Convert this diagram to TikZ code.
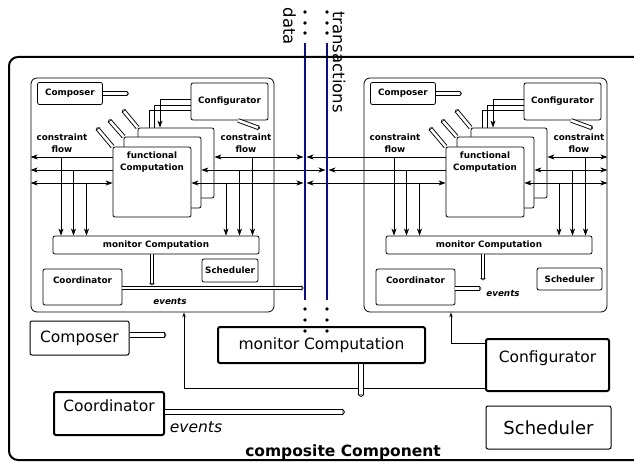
\documentclass[tikz,border=0pt]{standalone}
\usepackage{fontspec}
\setmainfont{DejaVu Sans}
\usetikzlibrary{arrows.meta}
\definecolor{dblue}{RGB}{10,10,160}
\tikzset{
  ibox/.style={draw, line width=0.8pt, fill=white, rounded corners=2pt, inner sep=0pt,
    font=\fontsize{8.8}{10.5}\selectfont\bfseries},
  obox/.style={draw, line width=2pt, fill=white, rounded corners=2pt, inner sep=0pt,
    font=\fontsize{15.5}{18}\selectfont},
  lbl/.style={align=center, inner sep=0pt, font=\fontsize{8.8}{12}\selectfont\bfseries},
  hol/.style={draw, line width=0.9pt, double=white, double distance=2.6pt,
    -{Triangle[open, length=2pt, width=5.5pt]}},
  ohol/.style={draw, line width=1pt, double=white, double distance=4pt,
    -{Triangle[open, length=2.5pt, width=7pt]}},
  sarr/.style={line width=0.8pt, -{Stealth[length=5pt, width=3.5pt]}},
  dline/.style={draw=dblue, line width=2.8pt},
}
\newcommand\innercomp{%
  \node[ibox, rounded corners=6pt, fill=none, minimum width=243pt, minimum height=234pt] (box) at (152.5,195) {};
  \node[ibox, minimum width=65pt, minimum height=22pt] (composer) at (70,93.5) {Composer};
  \draw[hol] (composer.east) -- ++(26,0);
  \node[ibox, minimum width=77pt, minimum height=37pt] (cfg) at (229.5,101.5) {Configurator};
  \draw[hol] ([xshift=8.5pt]cfg.south) -- ++(22,8);
  \node[ibox, minimum width=76pt, minimum height=70pt] (back) at (176,163) {};
  \node[ibox, minimum width=77pt, minimum height=71pt] (mid) at (162.5,172.5) {};
  \node[ibox, minimum width=78pt, minimum height=70pt,
    label={[lbl, anchor=north, yshift=-5pt]north:{functional\\Computation}}] (front) at (152,182) {};
  \draw[hol] (back.north west) -- ++(-15,-18);
  \draw[hol] (mid.north west) -- ++(-15,-17);
  \draw[hol] (front.north west) -- ++(-16,-19);
  \draw[line width=0.8pt, ->] ([yshift=2.5pt]cfg.west) -| ([xshift=-16pt]back.north);
  \draw[line width=0.8pt] ([yshift=-3.5pt]cfg.west) -| ([xshift=-22pt]back.north);
  \draw[line width=0.8pt] ([yshift=-8.5pt]cfg.west) -| ([xshift=-27pt]back.north);
  \node[lbl] (cfl) at (62,143) {constraint\\flow};
  \node[lbl] (cfr) at (246,143.5) {constraint\\flow};
  \node[ibox, minimum width=206pt, minimum height=18pt] (mon) at (156,245) {monitor Computation};
  \node[ibox, minimum width=79pt, minimum height=36pt, text depth=14.6pt] (coord) at (82.5,287) {Coordinator};
  \coordinate (r1) at (0,157); \coordinate (r2) at (0,170); \coordinate (r3) at (0,183);
  \coordinate (a1) at (61,0); \coordinate (a2) at (73.5,0); \coordinate (a3) at (86.5,0);
  \coordinate (b1) at (226,0); \coordinate (b2) at (239.5,0); \coordinate (b3) at (252.5,0);
  \draw[line width=0.8pt, ->] (a1 |- r1) -- (a1 |- mon.north);
  \draw[line width=0.8pt, ->] (a2 |- r2) -- (a2 |- mon.north);
  \draw[line width=0.8pt, ->] (a3 |- r3) -- (a3 |- mon.north);
  \draw[line width=0.8pt, ->] (b1 |- r3) -- (b1 |- mon.north);
  \draw[line width=0.8pt, ->] (b2 |- r2) -- (b2 |- mon.north);
  \draw[line width=0.8pt, ->] (b3 |- r1) -- (b3 |- mon.north);
}
\begin{document}
\begin{tikzpicture}[x=1pt, y=-1pt, >={Stealth[length=7pt, width=5pt, inset=2pt]}]
\useasboundingbox (0,0) rectangle (634,462);
\fill[white] (0,0) rectangle (634,462);

% left inner component
\begin{scope}[name prefix=L-]
  \innercomp
  \node[ibox, minimum width=56pt, minimum height=23pt] (sch) at (230,270.5) {Scheduler};
  \draw[hol] ([xshift=-4pt]mon.south) -- ++(0,31);
  \node[lbl, font=\fontsize{8.8}{10}\selectfont\bfseries\itshape] (ev) at (170,301) {events};
  \draw[line width=0.8pt, ->] (front.west |- r1) -- (box.west |- r1);
  \draw[line width=0.8pt, ->] (front.west |- r2) -- (box.west |- r2);
  \draw[line width=0.8pt, <->] (front.west |- r3) -- (box.west |- r3);
\end{scope}

% right inner component
\begin{scope}[xshift=333pt, name prefix=R-]
  \innercomp
  \node[ibox, minimum width=65pt, minimum height=22pt] (sch) at (236.5,279) {Scheduler};
  \draw[hol] ([xshift=-6pt]mon.south) -- ++(0,26);
  \draw[hol] ([yshift=-1.5pt]coord.east) -- ++(26,0);
  \node[lbl, font=\fontsize{8.8}{10}\selectfont\bfseries\itshape] (ev) at (170,293) {events};
  \draw[line width=0.8pt, <->] (back.east |- r1) -- (box.east |- r1);
  \draw[line width=0.8pt, <->] (mid.east |- r2) -- (box.east |- r2);
  \draw[line width=0.8pt, <->] (front.east |- r3) -- (box.east |- r3);
\end{scope}

% data / transactions lines
\coordinate (dtop) at (305,43); \coordinate (dbot) at (305,300);
\coordinate (ttop) at (327,43); \coordinate (tbot) at (327,300);
\coordinate (row1) at (0,157); \coordinate (row2) at (0,170); \coordinate (row3) at (0,183);

\draw[line width=0.8pt, <->, shorten >=1.5pt] (L-back.east |- row1) -- (dtop |- row1);
\draw[line width=0.8pt, <->, shorten >=1.5pt] (L-mid.east |- row2) -- (ttop |- row2);
\draw[line width=0.8pt, <->, shorten >=1.5pt] (L-front.east |- row3) -- (dtop |- row3);
\draw[line width=0.8pt, ->, shorten >=1.5pt] (R-front.west |- row1) -- (dtop |- row1);
\draw[line width=0.8pt, ->, shorten >=1.5pt] (R-front.west |- row2) -- (ttop |- row2);
\draw[line width=0.8pt, <->, shorten >=1.5pt] (R-front.west |- row3) -- (dtop |- row3);
\draw[hol, shorten >=1.5pt] ([yshift=-1pt]L-coord.east) -- ([yshift=-1pt]L-coord.east -| dtop);

\draw[dline] (dtop) -- (dbot);
\draw[dline] (ttop) -- (tbot);

\node[rotate=-90, inner sep=0pt, font=\fontsize{16.5}{18}\selectfont] (datalbl) at (289.5,26.5) {data};
\node[rotate=-90, inner sep=0pt, font=\fontsize{16.5}{18}\selectfont] (translbl) at (339,62) {transactions};

% outer composite box
\draw[line width=2pt, rounded corners=9pt] (660,57) -- (9,57) -- (9,460) -- (660,460);

% outer level parts
\node[obox, line width=1pt, minimum width=99pt, minimum height=34pt] (ocomp) at (79.5,338) {Composer};
\draw[ohol] ([yshift=3pt]ocomp.east) -- ++(37,0);
\node[obox, minimum width=207pt, minimum height=36pt] (omon) at (321.5,345) {monitor Computation};
\node[obox, minimum width=123pt, minimum height=52pt, text depth=16pt] (ocfg) at (547.5,365) {Configurator};
\node[obox, minimum width=110pt, minimum height=43pt, text depth=15pt] (ocoord) at (109,413.5) {Coordinator};
\node[obox, line width=1pt, minimum width=125pt, minimum height=43pt, font=\fontsize{18}{20}\selectfont] (osch) at (548.5,427.5) {Scheduler};
\node[inner sep=0pt, font=\fontsize{15.5}{18}\selectfont\itshape] (oev) at (196,427) {events};
\node[inner sep=0pt, font=\fontsize{15.5}{18}\selectfont\bfseries] (ctitle) at (343,452) {composite Component};

\draw[sarr] ([yshift=22pt]ocfg.west) -| ([xshift=-34.5pt]R-box.south);
\draw[sarr] ([yshift=-23pt]ocfg.west) -| ([xshift=31.5pt]L-box.south);
\draw[ohol] ([xshift=39.5pt]omon.south) -- ++(0,33);
\draw[ohol] ([yshift=1.5pt]ocoord.east) -- ++(180,0);

% dots
\foreach \x in {305,327}{
  \foreach \y in {12,23,33,309,320,331}{
    \fill (\x,\y) circle (1.8pt);
  }
}
\end{tikzpicture}
\end{document}
